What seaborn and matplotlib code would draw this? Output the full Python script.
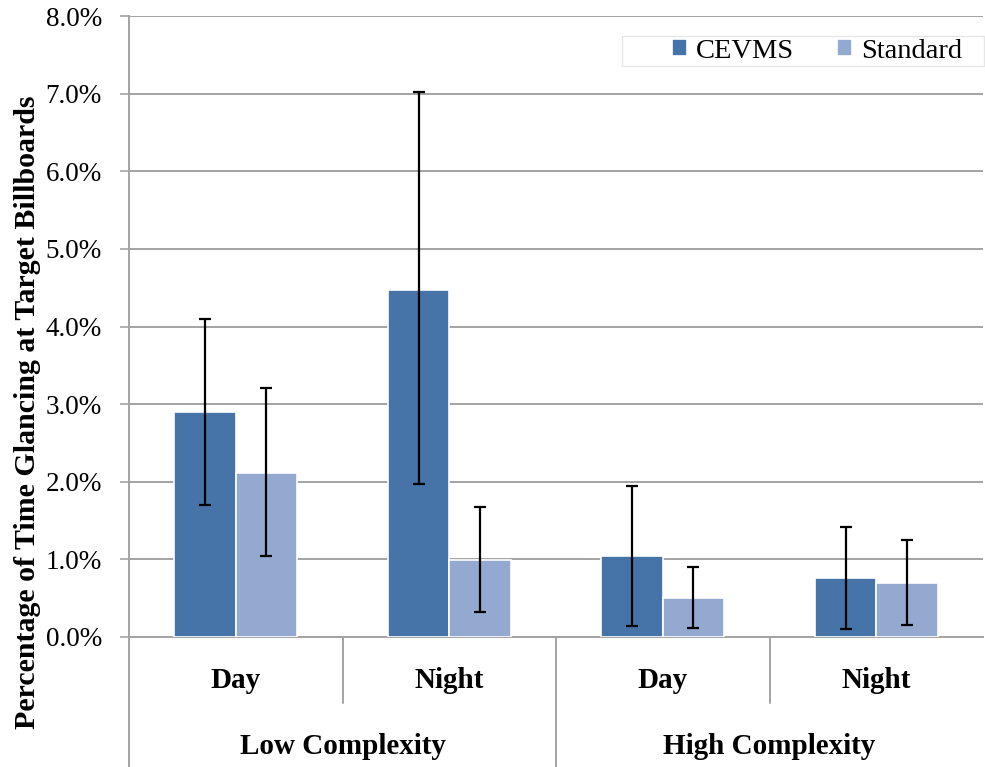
import matplotlib
matplotlib.use("Agg")
import matplotlib.pyplot as plt
from matplotlib.patches import Rectangle
import seaborn as sns
import pandas as pd

conditions = ["LC Day", "LC Night", "HC Day", "HC Night"]
day_night = ["Day", "Night", "Day", "Night"]
complexity = ["Low Complexity", "High Complexity"]
series = ["CEVMS", "Standard"]
cevms = [2.90, 4.47, 1.04, 0.76]
standard = [2.11, 0.99, 0.50, 0.70]
cevms_lo = [1.70, 1.97, 0.14, 0.10]
cevms_hi = [4.10, 7.02, 1.95, 1.42]
std_lo = [1.04, 0.32, 0.11, 0.15]
std_hi = [3.21, 1.68, 0.90, 1.25]

colors = ["#4673A8", "#94A9D0"]
grid_col = "#A3A3A3"

df = pd.DataFrame({
    "cond": conditions * 2,
    "series": [series[0]] * 4 + [series[1]] * 4,
    "value": cevms + standard,
})

sns.set_theme(style="white")
plt.rcParams["font.family"] = ["Liberation Serif", "DejaVu Serif"]
plt.rcParams["text.color"] = "black"
plt.rcParams["ytick.labelcolor"] = "black"

fig = plt.figure(figsize=(9.85, 7.67), dpi=100)
ax = fig.add_axes([129 / 985, 130 / 767, 854 / 985, 621 / 767])

sns.barplot(data=df, x="cond", y="value", hue="series", order=conditions,
            hue_order=series, palette=colors, width=0.575, gap=0,
            edgecolor="white", linewidth=1.2, saturation=1, errorbar=None,
            ax=ax, zorder=3)

# asymmetric error bars at the bar centres
lows = [cevms_lo, std_lo]
highs = [cevms_hi, std_hi]
vals = [cevms, standard]
bar_conts = list(ax.containers)
for k, cont in enumerate(bar_conts):
    xs = [p.get_x() + p.get_width() / 2 for p in cont.patches]
    err = [[v - l for v, l in zip(vals[k], lows[k])],
           [h - v for v, h in zip(vals[k], highs[k])]]
    ax.errorbar(xs, vals[k], yerr=err, fmt="none", ecolor="black",
                elinewidth=1.6, capsize=4.5, capthick=1.6, zorder=4)

ax.set_xlim(-0.5, 3.5)
ax.set_ylim(0, 8)
ax.set_yticks(range(0, 9))
ax.set_yticklabels([f"{v:.1f}%" for v in range(0, 9)], fontsize=19.5)
ax.set_xticks([])
ax.set_xlabel("")
ax.set_ylabel("")
ax.yaxis.grid(True, color=grid_col, lw=1.4, zorder=0)
ax.tick_params(axis="y", which="major", left=True, length=6.5, width=1.2,
               color=grid_col, pad=13)
for s in ["top", "right"]:
    ax.spines[s].set_visible(False)
ax.spines["left"].set_color(grid_col)
ax.spines["bottom"].set_color(grid_col)
ax.spines["left"].set_linewidth(1.4)
ax.spines["bottom"].set_linewidth(1.4)

# category axis drawn below the plot
tr = ax.get_xaxis_transform()
bottom = -130 / 621
ax.plot([-0.5, -0.5], [0, bottom], transform=tr, color=grid_col, lw=1.4, clip_on=False)
ax.plot([1.5, 1.5], [0, bottom], transform=tr, color=grid_col, lw=1.4, clip_on=False)
for xd in [0.5, 2.5]:
    ax.plot([xd, xd], [0, -66 / 621], transform=tr, color=grid_col, lw=1.4, clip_on=False)
for i, lab in enumerate(day_night):
    ax.text(i, -44 / 621, lab, transform=tr, ha="center", va="center",
            fontsize=21, fontweight="bold")
for i, lab in enumerate(complexity):
    ax.text(0.5 + 2 * i, -109 / 621, lab, transform=tr, ha="center", va="center",
            fontsize=21, fontweight="bold")

fig.text(28 / 985, 1 - 412 / 767, "Percentage of Time Glancing at Target Billboards",
         rotation=90, ha="center", va="center", fontsize=21.5, fontweight="bold")

# legend box with wide left padding, as in the source
ax.add_patch(Rectangle((622 / 985, 1 - 66 / 767), 362 / 985, 30 / 767,
                       transform=fig.transFigure, facecolor="white",
                       edgecolor="#E6E6E6", lw=1.0, zorder=5, clip_on=False))
leg = ax.legend(loc="center right", bbox_to_anchor=(962 / 985, 1 - 51 / 767),
                bbox_transform=fig.transFigure, ncol=2, fontsize=20.5,
                frameon=False, handlelength=0.55, handleheight=0.55,
                handletextpad=0.3, columnspacing=1.5, borderpad=0,
                borderaxespad=0)
leg.set_zorder(6)

fig.savefig("out.png", dpi=100)
